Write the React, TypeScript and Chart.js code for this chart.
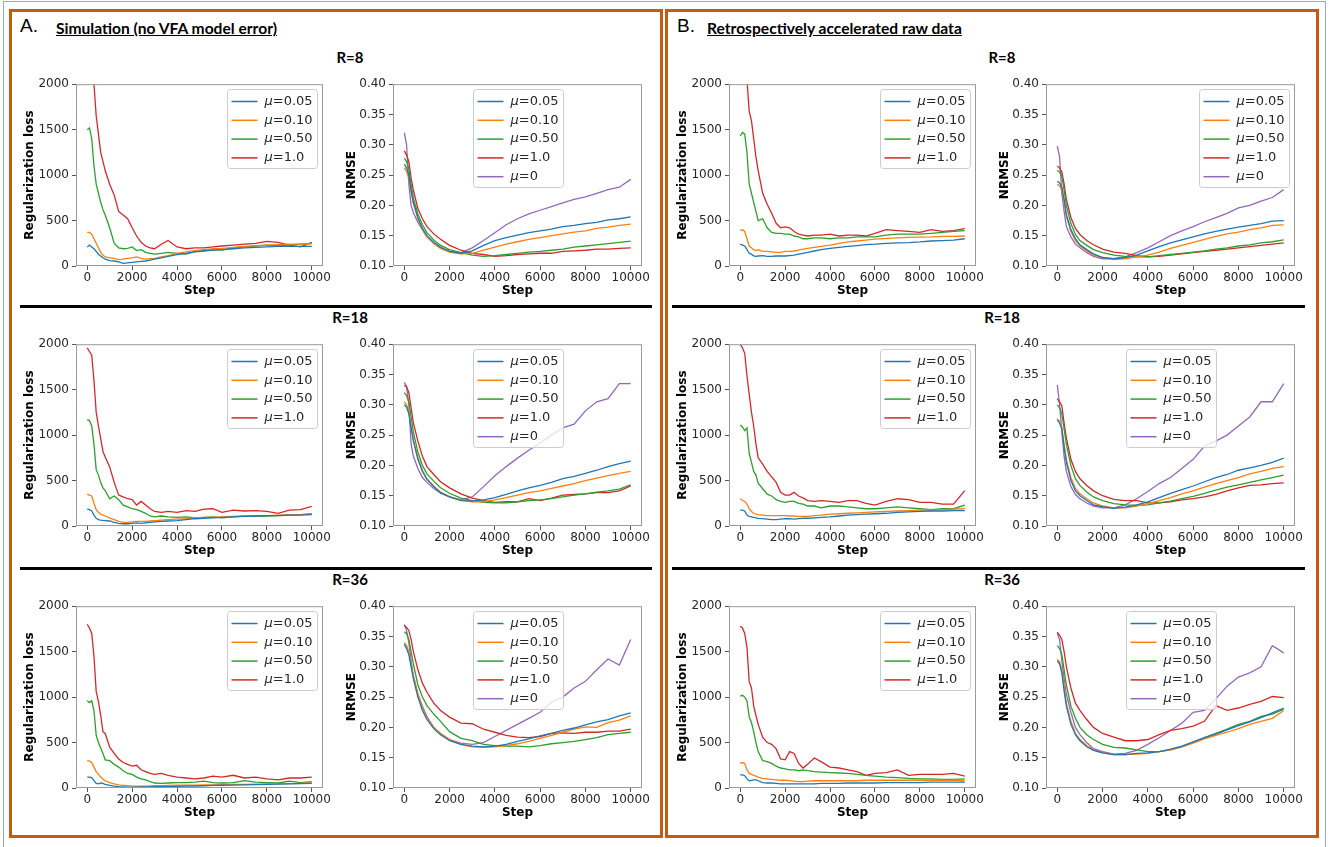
import React, { useEffect, useRef } from 'react';
import { Chart, registerables } from 'chart.js';

Chart.register(...registerables);
Chart.defaults.font.family = '"DejaVu Sans"';

// ---------- shared axes / labels ----------
const LOSS_STEPS = [0, 100, 200, 300, 400, 500, 600, 700, 800, 1000, 1200, 1400, 1600, 1800, 2000, 2200, 2400, 2600, 2800, 3000, 3300, 3600, 4000, 4400, 4800, 5200, 5600, 6000, 6500, 7000, 7500, 8000, 8500, 9000, 9500, 10000];
const NRMSE_STEPS = [0, 100, 200, 300, 400, 600, 800, 1000, 1300, 1600, 2000, 2500, 3000, 3500, 4000, 4500, 5000, 5500, 6000, 6500, 7000, 7500, 8000, 8500, 9000, 9500, 10000];
const X_TICKS = [0, 2000, 4000, 6000, 8000, 10000];
const LOSS_TICKS = [0, 500, 1000, 1500, 2000];
const NRMSE_TICKS = [0.1, 0.15, 0.2, 0.25, 0.3, 0.35, 0.4];
const MU_LABELS = ['0.05', '0.10', '0.50', '1.0', '0'];
const COLORS = ['#1f77b4', '#ff7f0e', '#2ca02c', '#d62728', '#9467bd'];
const ROW_TITLES = ['R=8', 'R=18', 'R=36'];

// ---------- A. Simulation ----------
const simR8Loss005 = [210, 230, 210, 190, 160, 130, 110, 90, 75, 60, 55, 45, 30, 35, 40, 45, 50, 55, 65, 75, 90, 105, 125, 140, 155, 165, 175, 180, 190, 200, 205, 210, 215, 215, 215, 215];
const simR8Loss010 = [370, 370, 350, 300, 250, 200, 150, 120, 100, 90, 85, 70, 75, 85, 90, 100, 85, 75, 80, 85, 100, 115, 140, 155, 170, 180, 190, 195, 205, 215, 225, 230, 235, 240, 240, 245];
const simR8Loss050 = [1500, 1520, 1400, 1100, 900, 800, 700, 620, 560, 420, 250, 200, 190, 195, 210, 170, 180, 150, 140, 130, 140, 150, 140, 130, 160, 170, 180, 175, 200, 210, 220, 230, 225, 230, 240, 250];
const simR8Loss10 = [2600, 2450, 2250, 2000, 1650, 1450, 1250, 1150, 1050, 900, 780, 600, 560, 520, 420, 330, 260, 220, 200, 190, 240, 280, 210, 190, 200, 200, 210, 220, 230, 240, 250, 270, 260, 230, 210, 260];

const simR8N005 = [0.268, 0.262, 0.25, 0.225, 0.205, 0.18, 0.162, 0.15, 0.139, 0.131, 0.124, 0.121, 0.125, 0.134, 0.142, 0.147, 0.151, 0.155, 0.158, 0.161, 0.165, 0.167, 0.17, 0.172, 0.176, 0.178, 0.181];
const simR8N010 = [0.262, 0.256, 0.245, 0.222, 0.203, 0.178, 0.16, 0.148, 0.137, 0.129, 0.123, 0.12, 0.121, 0.126, 0.131, 0.136, 0.14, 0.144, 0.147, 0.15, 0.153, 0.156, 0.158, 0.162, 0.164, 0.167, 0.169];
const simR8N050 = [0.278, 0.272, 0.26, 0.235, 0.212, 0.186, 0.168, 0.155, 0.143, 0.134, 0.127, 0.122, 0.118, 0.116, 0.117, 0.119, 0.121, 0.123, 0.124, 0.126, 0.128, 0.131, 0.133, 0.135, 0.137, 0.139, 0.141];
const simR8N10 = [0.29, 0.283, 0.272, 0.245, 0.225, 0.195, 0.178, 0.165, 0.153, 0.144, 0.134, 0.126, 0.121, 0.119, 0.116, 0.117, 0.119, 0.12, 0.121, 0.121, 0.124, 0.125, 0.126, 0.128, 0.128, 0.129, 0.13];
const simR8N0 = [0.32, 0.3, 0.235, 0.2, 0.188, 0.172, 0.16, 0.148, 0.138, 0.13, 0.124, 0.122, 0.13, 0.142, 0.155, 0.168, 0.178, 0.186, 0.192, 0.198, 0.204, 0.21, 0.214, 0.22, 0.226, 0.23, 0.243];

const simR18Loss005 = [185, 180, 165, 120, 85, 70, 65, 62, 60, 55, 40, 30, 25, 25, 30, 35, 30, 35, 40, 45, 50, 55, 60, 70, 80, 85, 90, 95, 100, 105, 110, 115, 115, 120, 120, 125];
const simR18Loss010 = [350, 340, 330, 250, 180, 150, 130, 120, 110, 90, 70, 50, 40, 40, 45, 50, 50, 50, 55, 60, 65, 70, 75, 80, 90, 95, 95, 100, 105, 110, 115, 115, 120, 125, 125, 130];
const simR18Loss050 = [1170, 1160, 1100, 900, 620, 560, 480, 420, 390, 300, 330, 290, 230, 210, 190, 180, 160, 140, 110, 100, 110, 100, 95, 100, 90, 95, 100, 90, 100, 110, 105, 110, 115, 120, 125, 135];
const simR18Loss10 = [1960, 1920, 1880, 1600, 1250, 1100, 960, 820, 760, 650, 480, 340, 320, 300, 290, 230, 270, 230, 190, 160, 150, 160, 150, 170, 160, 185, 190, 150, 175, 165, 170, 160, 140, 175, 180, 215];

const simR18N005 = [0.3, 0.296, 0.285, 0.262, 0.24, 0.21, 0.19, 0.177, 0.165, 0.155, 0.148, 0.142, 0.141, 0.143, 0.147, 0.152, 0.158, 0.163, 0.167, 0.172, 0.178, 0.182, 0.187, 0.192, 0.198, 0.203, 0.207];
const simR18N010 = [0.305, 0.3, 0.29, 0.265, 0.243, 0.213, 0.192, 0.178, 0.166, 0.156, 0.148, 0.143, 0.14, 0.14, 0.143, 0.147, 0.151, 0.155, 0.158, 0.162, 0.166, 0.17, 0.175, 0.179, 0.183, 0.187, 0.19];
const simR18N050 = [0.32, 0.315, 0.305, 0.28, 0.255, 0.222, 0.2, 0.186, 0.174, 0.163, 0.154, 0.146, 0.142, 0.139, 0.138, 0.138, 0.14, 0.142, 0.143, 0.145, 0.148, 0.151, 0.153, 0.156, 0.158, 0.161, 0.168];
const simR18N10 = [0.332, 0.33, 0.32, 0.295, 0.27, 0.24, 0.215, 0.198, 0.185, 0.173, 0.163, 0.153, 0.146, 0.142, 0.139, 0.14, 0.14, 0.145, 0.142, 0.146, 0.151, 0.152, 0.153, 0.155, 0.155, 0.158, 0.166];
const simR18N0 = [0.337, 0.33, 0.3, 0.235, 0.215, 0.195, 0.18, 0.172, 0.162, 0.154, 0.148, 0.143, 0.148, 0.165, 0.183, 0.198, 0.212, 0.225, 0.237, 0.25, 0.262, 0.268, 0.29, 0.305, 0.31, 0.335, 0.335];

const simR36Loss005 = [120, 120, 115, 80, 50, 45, 55, 50, 40, 30, 20, 15, 12, 10, 10, 10, 12, 12, 12, 14, 15, 16, 18, 20, 22, 25, 28, 30, 32, 35, 38, 40, 42, 45, 48, 50];
const simR36Loss010 = [300, 295, 280, 230, 180, 150, 120, 100, 80, 60, 45, 35, 30, 25, 20, 20, 20, 20, 22, 25, 25, 28, 30, 30, 32, 35, 35, 38, 40, 40, 42, 45, 45, 48, 50, 55];
const simR36Loss050 = [960, 940, 960, 850, 580, 500, 440, 380, 310, 300, 260, 230, 190, 160, 150, 120, 100, 90, 70, 55, 50, 55, 60, 60, 65, 75, 60, 55, 60, 80, 65, 60, 55, 75, 60, 70];
const simR36Loss10 = [1800, 1760, 1700, 1450, 1060, 950, 800, 620, 600, 450, 380, 320, 280, 260, 240, 250, 200, 180, 160, 150, 160, 140, 120, 110, 100, 110, 130, 120, 140, 110, 120, 100, 90, 110, 110, 120];

const simR36N005 = [0.337, 0.33, 0.32, 0.3, 0.28, 0.25, 0.228, 0.213, 0.198, 0.188, 0.178, 0.172, 0.169, 0.168, 0.169, 0.172, 0.177, 0.181, 0.186, 0.19, 0.195, 0.199, 0.204, 0.209, 0.213, 0.219, 0.224];
const simR36N010 = [0.34, 0.335, 0.325, 0.305, 0.285, 0.255, 0.232, 0.216, 0.2, 0.19, 0.18, 0.172, 0.168, 0.167, 0.168, 0.17, 0.173, 0.177, 0.182, 0.187, 0.192, 0.197, 0.201, 0.2, 0.208, 0.212, 0.219];
const simR36N050 = [0.358, 0.355, 0.345, 0.325, 0.305, 0.27, 0.25, 0.236, 0.222, 0.21, 0.193, 0.182, 0.178, 0.172, 0.17, 0.169, 0.169, 0.168, 0.17, 0.173, 0.175, 0.177, 0.18, 0.183, 0.188, 0.19, 0.192];
const simR36N10 = [0.368, 0.365, 0.36, 0.345, 0.325, 0.295, 0.273, 0.258, 0.24, 0.228, 0.217, 0.207, 0.206, 0.197, 0.192, 0.187, 0.184, 0.183, 0.185, 0.19, 0.191, 0.19, 0.192, 0.192, 0.194, 0.194, 0.197];
const simR36N0 = [0.37, 0.36, 0.34, 0.31, 0.285, 0.255, 0.235, 0.218, 0.2, 0.19, 0.18, 0.174, 0.172, 0.175, 0.185, 0.195, 0.205, 0.215, 0.225, 0.242, 0.25, 0.265, 0.276, 0.295, 0.313, 0.303, 0.345];

// ---------- B. Retrospectively accelerated raw data ----------
const retR8Loss005 = [240, 230, 220, 180, 140, 130, 110, 105, 110, 115, 105, 105, 110, 110, 110, 115, 120, 130, 140, 150, 165, 180, 195, 205, 215, 225, 235, 240, 250, 255, 258, 265, 275, 280, 285, 300];
const retR8Loss010 = [390, 400, 380, 300, 220, 200, 180, 170, 180, 160, 160, 155, 150, 150, 160, 160, 165, 175, 185, 195, 205, 215, 230, 250, 265, 275, 285, 295, 305, 310, 315, 318, 320, 325, 325, 330];
const retR8Loss050 = [1430, 1470, 1450, 1250, 900, 800, 700, 600, 500, 520, 420, 370, 360, 360, 350, 350, 330, 320, 300, 300, 310, 310, 300, 310, 310, 320, 320, 320, 340, 350, 350, 350, 360, 370, 380, 390];
const retR8Loss10 = [2600, 2450, 2250, 2050, 1700, 1600, 1400, 1200, 1050, 800, 680, 580, 470, 420, 430, 420, 380, 350, 340, 330, 340, 340, 350, 330, 340, 340, 330, 360, 400, 390, 380, 370, 400, 380, 390, 410];

const retR8N005 = [0.24, 0.237, 0.23, 0.21, 0.185, 0.16, 0.145, 0.135, 0.127, 0.12, 0.114, 0.112, 0.114, 0.118, 0.125, 0.132, 0.138, 0.143, 0.148, 0.153, 0.157, 0.161, 0.164, 0.167, 0.17, 0.174, 0.175];
const retR8N010 = [0.235, 0.232, 0.225, 0.205, 0.182, 0.157, 0.142, 0.133, 0.125, 0.118, 0.114, 0.111, 0.112, 0.115, 0.118, 0.123, 0.129, 0.134, 0.139, 0.144, 0.149, 0.153, 0.156, 0.16, 0.163, 0.167, 0.168];
const retR8N050 = [0.258, 0.255, 0.248, 0.225, 0.2, 0.17, 0.152, 0.142, 0.134, 0.127, 0.122, 0.118, 0.116, 0.115, 0.115, 0.117, 0.119, 0.121, 0.123, 0.125, 0.128, 0.13, 0.133, 0.135, 0.138, 0.14, 0.143];
const retR8N10 = [0.265, 0.262, 0.255, 0.235, 0.21, 0.18, 0.162, 0.152, 0.142, 0.135, 0.128, 0.123, 0.121, 0.117, 0.115, 0.116, 0.118, 0.12, 0.122, 0.124, 0.126, 0.128, 0.13, 0.132, 0.134, 0.136, 0.138];
const retR8N0 = [0.298, 0.28, 0.22, 0.19, 0.165, 0.148, 0.136, 0.13, 0.122, 0.116, 0.112, 0.112, 0.115, 0.122, 0.13, 0.14, 0.15, 0.158, 0.165, 0.173, 0.18, 0.187, 0.196, 0.2, 0.207, 0.213, 0.226];

const retR18Loss005 = [175, 175, 165, 120, 105, 100, 95, 90, 85, 80, 75, 70, 70, 75, 80, 80, 75, 80, 85, 85, 90, 95, 100, 110, 120, 125, 130, 135, 140, 150, 155, 160, 165, 165, 170, 170];
const retR18Loss010 = [300, 280, 270, 240, 190, 160, 140, 130, 125, 120, 115, 115, 115, 115, 115, 110, 110, 105, 105, 105, 115, 120, 130, 135, 140, 145, 150, 155, 160, 165, 170, 175, 175, 180, 185, 190];
const retR18Loss050 = [1110, 1090, 1050, 1080, 800, 700, 600, 560, 470, 410, 350, 330, 290, 270, 260, 270, 270, 250, 240, 220, 220, 200, 220, 220, 210, 200, 190, 190, 200, 210, 200, 190, 180, 190, 190, 230];
const retR18Loss10 = [2000, 1960, 1900, 1650, 1450, 1250, 1100, 900, 750, 680, 600, 540, 480, 370, 340, 340, 370, 330, 310, 280, 270, 280, 270, 260, 280, 280, 250, 230, 270, 300, 290, 260, 260, 240, 240, 390];

const retR18N005 = [0.275, 0.27, 0.26, 0.23, 0.205, 0.175, 0.158, 0.15, 0.142, 0.135, 0.132, 0.129, 0.131, 0.135, 0.14, 0.147, 0.154, 0.16, 0.166, 0.173, 0.18, 0.185, 0.192, 0.196, 0.2, 0.205, 0.212];
const retR18N010 = [0.277, 0.272, 0.262, 0.235, 0.21, 0.18, 0.162, 0.153, 0.145, 0.138, 0.133, 0.13, 0.13, 0.133, 0.137, 0.142, 0.147, 0.153, 0.158, 0.164, 0.17, 0.175, 0.18, 0.186, 0.19, 0.195, 0.198];
const retR18N050 = [0.3, 0.295, 0.285, 0.26, 0.235, 0.2, 0.178, 0.167, 0.156, 0.148, 0.142, 0.137, 0.135, 0.134, 0.135, 0.138, 0.141, 0.145, 0.149, 0.154, 0.159, 0.164, 0.168, 0.172, 0.176, 0.18, 0.184];
const retR18N10 = [0.31, 0.305, 0.298, 0.27, 0.245, 0.21, 0.19, 0.178, 0.167, 0.158, 0.15, 0.144, 0.142, 0.142, 0.138, 0.138, 0.14, 0.143, 0.145, 0.148, 0.152, 0.158, 0.163, 0.167, 0.168, 0.17, 0.171];
const retR18N0 = [0.333, 0.3, 0.255, 0.215, 0.19, 0.165, 0.152, 0.145, 0.138, 0.133, 0.13, 0.13, 0.135, 0.145, 0.157, 0.17, 0.18, 0.195, 0.21, 0.232, 0.24, 0.25, 0.265, 0.28, 0.305, 0.305, 0.335];

const retR36Loss005 = [145, 145, 135, 100, 80, 85, 90, 90, 80, 60, 55, 55, 50, 45, 45, 45, 45, 45, 45, 45, 45, 50, 50, 50, 55, 55, 55, 55, 60, 60, 60, 60, 65, 65, 65, 65];
const retR36Loss010 = [270, 280, 270, 200, 160, 150, 140, 130, 120, 105, 100, 95, 90, 85, 85, 80, 75, 70, 70, 75, 80, 80, 80, 80, 80, 80, 85, 85, 85, 85, 85, 85, 85, 85, 85, 80];
const retR36Loss050 = [1010, 1020, 1000, 960, 780, 720, 620, 500, 400, 300, 290, 270, 240, 220, 210, 200, 200, 190, 200, 190, 180, 175, 170, 165, 160, 150, 140, 130, 120, 115, 105, 100, 100, 95, 95, 100];
const retR36Loss10 = [1780, 1760, 1700, 1550, 1170, 1100, 900, 800, 700, 560, 500, 480, 430, 320, 310, 400, 380, 270, 220, 260, 330, 290, 230, 220, 200, 180, 140, 160, 170, 200, 140, 150, 150, 150, 160, 130];

const retR36N005 = [0.31, 0.305, 0.29, 0.26, 0.235, 0.205, 0.188, 0.178, 0.168, 0.162, 0.158, 0.155, 0.155, 0.157, 0.158, 0.16, 0.164, 0.169, 0.176, 0.183, 0.189, 0.196, 0.203, 0.209, 0.216, 0.224, 0.232];
const retR36N010 = [0.312, 0.308, 0.295, 0.268, 0.24, 0.21, 0.19, 0.18, 0.17, 0.163, 0.158, 0.155, 0.155, 0.156, 0.157, 0.16, 0.163, 0.168, 0.174, 0.181, 0.187, 0.192, 0.198, 0.205, 0.21, 0.215, 0.228];
const retR36N050 = [0.335, 0.33, 0.32, 0.295, 0.27, 0.235, 0.215, 0.2, 0.188, 0.18, 0.172, 0.167, 0.166, 0.163, 0.16, 0.16, 0.163, 0.168, 0.175, 0.183, 0.19, 0.197, 0.205, 0.21, 0.218, 0.222, 0.23];
const retR36N10 = [0.357, 0.352, 0.345, 0.325, 0.3, 0.265, 0.24, 0.228, 0.213, 0.2, 0.19, 0.184, 0.178, 0.178, 0.18, 0.188, 0.195, 0.198, 0.202, 0.21, 0.236, 0.228, 0.232, 0.238, 0.243, 0.251, 0.249];
const retR36N0 = [0.355, 0.345, 0.31, 0.28, 0.255, 0.225, 0.2, 0.188, 0.175, 0.165, 0.16, 0.156, 0.157, 0.162, 0.172, 0.183, 0.195, 0.207, 0.225, 0.228, 0.247, 0.268, 0.283, 0.29, 0.3, 0.335, 0.323];

// ---------- layout (pixels) ----------
const ROW_TOP = [82, 342, 604];
const PLOT_H = 184;
const LOSS_W = 247;
const NRMSE_W = 249;
const PAD_T = 8;
const PAD_R = 14;
const X_H = 33;

type Kind = 'loss' | 'nrmse';
interface PlotDef { key: string; left: number; top: number; kind: Kind; series: number[][]; align: 'right' | 'center'; }

const PLOTS: PlotDef[] = [
  { key: 'a1l', left: 76, top: ROW_TOP[0], kind: 'loss', series: [simR8Loss005, simR8Loss010, simR8Loss050, simR8Loss10], align: 'right' },
  { key: 'a1n', left: 393, top: ROW_TOP[0], kind: 'nrmse', series: [simR8N005, simR8N010, simR8N050, simR8N10, simR8N0], align: 'center' },
  { key: 'a2l', left: 76, top: ROW_TOP[1], kind: 'loss', series: [simR18Loss005, simR18Loss010, simR18Loss050, simR18Loss10], align: 'right' },
  { key: 'a2n', left: 393, top: ROW_TOP[1], kind: 'nrmse', series: [simR18N005, simR18N010, simR18N050, simR18N10, simR18N0], align: 'center' },
  { key: 'a3l', left: 76, top: ROW_TOP[2], kind: 'loss', series: [simR36Loss005, simR36Loss010, simR36Loss050, simR36Loss10], align: 'right' },
  { key: 'a3n', left: 393, top: ROW_TOP[2], kind: 'nrmse', series: [simR36N005, simR36N010, simR36N050, simR36N10, simR36N0], align: 'center' },
  { key: 'b1l', left: 729, top: ROW_TOP[0], kind: 'loss', series: [retR8Loss005, retR8Loss010, retR8Loss050, retR8Loss10], align: 'right' },
  { key: 'b1n', left: 1046, top: ROW_TOP[0], kind: 'nrmse', series: [retR8N005, retR8N010, retR8N050, retR8N10, retR8N0], align: 'right' },
  { key: 'b2l', left: 729, top: ROW_TOP[1], kind: 'loss', series: [retR18Loss005, retR18Loss010, retR18Loss050, retR18Loss10], align: 'right' },
  { key: 'b2n', left: 1046, top: ROW_TOP[1], kind: 'nrmse', series: [retR18N005, retR18N010, retR18N050, retR18N10, retR18N0], align: 'center' },
  { key: 'b3l', left: 729, top: ROW_TOP[2], kind: 'loss', series: [retR36Loss005, retR36Loss010, retR36Loss050, retR36Loss10], align: 'right' },
  { key: 'b3n', left: 1046, top: ROW_TOP[2], kind: 'nrmse', series: [retR36N005, retR36N010, retR36N050, retR36N10, retR36N0], align: 'center' },
];

const TEXT_COLOR = '#262626';

const muLegend = {
  id: 'muLegend',
  afterDraw(chart: any, _args: any, opts: any) {
    const { ctx, chartArea: a } = chart;
    ctx.save();
    ctx.strokeStyle = '#9a9a9a';
    ctx.lineWidth = 1;
    ctx.strokeRect(a.left + 0.5, a.top + 0.5, a.right - a.left - 1, a.bottom - a.top - 1);
    const labels: string[] = opts.labels || [];
    const colors: string[] = opts.colors || [];
    if (labels.length) {
      const w = 90;
      const rowH = 18.8;
      const h = 12 + (labels.length - 1) * rowH + 11;
      const x0 = opts.align === 'center'
        ? Math.round((a.left + a.right) / 2 - w / 2) + 0.5
        : Math.round(a.right - 6 - w) + 0.5;
      const y0 = Math.round(a.top + 5) + 0.5;
      ctx.beginPath();
      ctx.roundRect(x0, y0, w, Math.round(h), 3);
      ctx.fillStyle = 'rgba(255,255,255,0.8)';
      ctx.fill();
      ctx.strokeStyle = '#cccccc';
      ctx.lineWidth = 1;
      ctx.stroke();
      labels.forEach((lab, i) => {
        const y = y0 + 12 + i * rowH;
        ctx.strokeStyle = colors[i];
        ctx.lineWidth = 1.5;
        ctx.beginPath();
        ctx.moveTo(x0 + 4, y);
        ctx.lineTo(x0 + 30, y);
        ctx.stroke();
        ctx.fillStyle = TEXT_COLOR;
        ctx.textBaseline = 'middle';
        ctx.textAlign = 'left';
        ctx.font = 'italic 13px "DejaVu Sans"';
        ctx.fillText('\u03bc', x0 + 37, y);
        const mw = ctx.measureText('\u03bc').width;
        ctx.font = '13px "DejaVu Sans"';
        ctx.fillText('=' + lab, x0 + 37 + mw, y);
      });
    }
    ctx.restore();
  },
};

function Plot({ def }: { def: PlotDef }) {
  const ref = useRef<HTMLCanvasElement | null>(null);
  const isLoss = def.kind === 'loss';
  const yW = isLoss ? 56 : 50;
  const plotW = isLoss ? LOSS_W : NRMSE_W;
  const cw = yW + plotW + PAD_R;
  const ch = PAD_T + PLOT_H + X_H;

  useEffect(() => {
    if (!ref.current) return;
    const steps = isLoss ? LOSS_STEPS : NRMSE_STEPS;
    const yTicks = isLoss ? LOSS_TICKS : NRMSE_TICKS;
    const tickFont = { family: '"DejaVu Sans"', size: 12 };
    const titleFont = { family: '"DejaVu Sans"', size: 12, weight: 'bold' as const };
    const chart = new Chart(ref.current, {
      type: 'line',
      data: {
        datasets: def.series.map((s, i) => ({
          label: MU_LABELS[i],
          data: steps.map((x, j) => ({ x, y: s[j] })),
          borderColor: COLORS[i],
          backgroundColor: COLORS[i],
          borderWidth: 1.3,
          pointRadius: 0,
          tension: 0,
          fill: false,
        })),
      },
      options: {
        animation: false,
        responsive: false,
        devicePixelRatio: 1,
        layout: { padding: { top: PAD_T, right: PAD_R, left: 0, bottom: 0 } },
        plugins: {
          legend: { display: false },
          tooltip: { enabled: false },
          muLegend: { labels: MU_LABELS.slice(0, def.series.length), colors: COLORS, align: def.align },
        } as any,
        scales: {
          x: {
            type: 'linear',
            min: -500,
            max: 10500,
            afterBuildTicks: (s: any) => { s.ticks = X_TICKS.map((v) => ({ value: v })); },
            afterFit: (s: any) => { s.height = X_H; },
            ticks: { callback: (v: any) => String(v), font: tickFont, color: TEXT_COLOR, padding: 1, maxRotation: 0, autoSkip: false },
            grid: { display: true, drawOnChartArea: false, drawTicks: true, tickLength: 4, color: '#555' },
            border: { display: false },
            title: { display: true, text: 'Step', font: titleFont, color: '#000', padding: { top: 0, bottom: 1 } },
          },
          y: {
            type: 'linear',
            min: isLoss ? 0 : 0.1,
            max: isLoss ? 2000 : 0.4,
            afterBuildTicks: (s: any) => { s.ticks = yTicks.map((v) => ({ value: v })); },
            afterFit: (s: any) => { s.width = yW; },
            ticks: {
              callback: (v: any) => (isLoss ? String(v) : Number(v).toFixed(2)),
              font: tickFont, color: TEXT_COLOR, padding: 3, autoSkip: false,
            },
            grid: { display: true, drawOnChartArea: false, drawTicks: true, tickLength: 4, color: '#555' },
            border: { display: false },
            title: {
              display: true, text: isLoss ? 'Regularization loss' : 'NRMSE', font: titleFont, color: '#000',
              padding: { top: isLoss ? 3 : 2, bottom: 0 },
            },
          },
        },
      },
      plugins: [muLegend as any],
    });
    return () => chart.destroy();
  }, []);

  return (
    <canvas
      ref={ref}
      width={cw}
      height={ch}
      style={{ position: 'absolute', left: def.left - yW, top: def.top - PAD_T, width: cw, height: ch }}
    />
  );
}

const ORANGE = '#c55a11';

export default function App() {
  const sectionFont = 'Lato, "Open Sans", sans-serif';
  const rowTitle = (text: string, cx: number, row: number) => (
    <div key={text + cx} style={{
      position: 'absolute', left: cx - 40, width: 80, textAlign: 'center', top: ROW_TOP[row] - 19 - 13,
      font: `bold 15px ${sectionFont}`, lineHeight: '15px', color: '#000', whiteSpace: 'nowrap',
    }}>{text}</div>
  );
  return (
    <div style={{ position: 'absolute', left: 0, top: 0, width: 1336, height: 847, background: '#fff', overflow: 'hidden' }}>
      {/* outer light-blue frame */}
      <div style={{ position: 'absolute', left: 3, top: 1, width: 1323, height: 900, border: '1.5px solid #8faadc', boxSizing: 'border-box' }} />
      {/* orange panel frames */}
      <div style={{ position: 'absolute', left: 9, top: 9, width: 654, height: 829, border: `3px solid ${ORANGE}`, boxSizing: 'border-box' }} />
      <div style={{ position: 'absolute', left: 665, top: 9, width: 654, height: 829, border: `3px solid ${ORANGE}`, boxSizing: 'border-box' }} />
      {/* black row separators */}
      <div style={{ position: 'absolute', left: 20, top: 305, width: 632, height: 3, background: '#000' }} />
      <div style={{ position: 'absolute', left: 20, top: 567, width: 632, height: 3, background: '#000' }} />
      <div style={{ position: 'absolute', left: 672, top: 305, width: 633, height: 3, background: '#000' }} />
      <div style={{ position: 'absolute', left: 672, top: 567, width: 633, height: 3, background: '#000' }} />
      {/* panel headers */}
      <div style={{ position: 'absolute', left: 20, top: 16, font: '19px "Liberation Sans", sans-serif', lineHeight: '19px', color: '#000' }}>A.</div>
      <div style={{ position: 'absolute', left: 56, top: 21, font: `bold 15.6px ${sectionFont}`, lineHeight: '15.6px', color: '#000', textDecoration: 'underline', whiteSpace: 'nowrap' }}>Simulation (no VFA model error)</div>
      <div style={{ position: 'absolute', left: 677, top: 16, font: '19px "Liberation Sans", sans-serif', lineHeight: '19px', color: '#000' }}>B.</div>
      <div style={{ position: 'absolute', left: 707, top: 21, font: `bold 15.6px ${sectionFont}`, lineHeight: '15.6px', color: '#000', textDecoration: 'underline', whiteSpace: 'nowrap' }}>Retrospectively accelerated raw data</div>
      {/* R titles */}
      {ROW_TITLES.map((t, i) => rowTitle(t, 350, i))}
      {ROW_TITLES.map((t, i) => rowTitle(t, 1002, i))}
      {PLOTS.map((p) => <Plot key={p.key} def={p} />)}
    </div>
  );
}
